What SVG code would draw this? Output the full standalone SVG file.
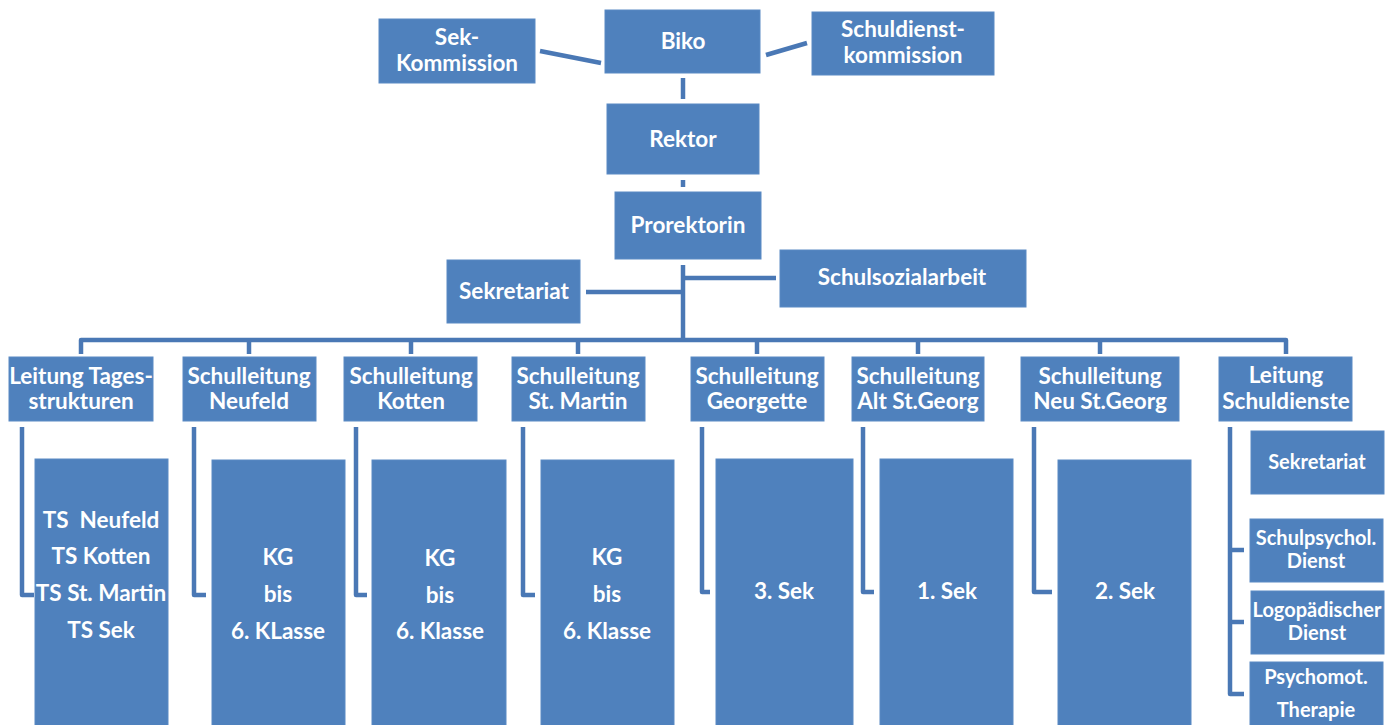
<svg xmlns="http://www.w3.org/2000/svg" width="1389" height="725" viewBox="0 0 1389 725">
<style>
.b{fill:#4F81BD;stroke:#5A8AC4;stroke-width:1}
.t{font-family:Lato,"Liberation Sans",sans-serif;font-weight:700;font-size:22.5px;fill:#FFFFFF;text-anchor:middle;white-space:pre}
.s{font-size:20px}
.c{fill:none;stroke:#4A78B5;stroke-width:4.5;stroke-linejoin:round}
</style>
<rect width="1389" height="725" fill="#FFFFFF"/>
<g id="connectors">
<line class="c" x1="540" y1="51" x2="601" y2="63"/>
<line class="c" x1="766" y1="55" x2="807" y2="43"/>
<line class="c" x1="683" y1="78" x2="683" y2="99"/>
<line class="c" x1="683" y1="180" x2="683" y2="187"/>
<line class="c" x1="683" y1="265" x2="683" y2="340"/>
<line class="c" x1="683" y1="278" x2="776" y2="278"/>
<line class="c" x1="586" y1="292" x2="683" y2="292"/>
<path class="c" d="M81,354 V340 H1286 V354"/>
<line class="c" x1="249" y1="340" x2="249" y2="354"/>
<line class="c" x1="411" y1="340" x2="411" y2="354"/>
<line class="c" x1="578" y1="340" x2="578" y2="354"/>
<line class="c" x1="757" y1="340" x2="757" y2="354"/>
<line class="c" x1="918" y1="340" x2="918" y2="354"/>
<line class="c" x1="1100" y1="340" x2="1100" y2="354"/>
<path class="c" d="M22,427 V595 H34"/>
<path class="c" d="M194,427 V595 H206"/>
<path class="c" d="M356,427 V595 H367"/>
<path class="c" d="M523,427 V595 H535"/>
<path class="c" d="M702,427 V592 H710"/>
<path class="c" d="M863,427 V592 H874"/>
<path class="c" d="M1034,427 V592 H1052"/>
<path class="c" d="M1230,427 V694 H1244"/>
<line class="c" x1="1230" y1="550" x2="1244" y2="550"/>
<line class="c" x1="1230" y1="622" x2="1244" y2="622"/>
</g>
<g id="sek-kommission"><rect class="b" x="379" y="19" width="156" height="64"/><text class="t" x="457" y="45">Sek-</text><text class="t" x="457" y="71">Kommission</text></g>
<g id="biko"><rect class="b" x="605" y="10" width="155" height="63"/><text class="t" x="683" y="49">Biko</text></g>
<g id="schuldienstkommission"><rect class="b" x="812" y="12" width="182" height="63"/><text class="t" x="903" y="37">Schuldienst-</text><text class="t" x="903" y="63">kommission</text></g>
<g id="rektor"><rect class="b" x="607" y="104" width="152" height="70"/><text class="t" x="683" y="147">Rektor</text></g>
<g id="prorektorin"><rect class="b" x="615" y="192" width="146" height="67"/><text class="t" x="688" y="233">Prorektorin</text></g>
<g id="schulsozialarbeit"><rect class="b" x="780" y="250" width="246" height="57"/><text class="t" x="902" y="285">Schulsozialarbeit</text></g>
<g id="sekretariat"><rect class="b" x="447" y="260" width="133" height="63"/><text class="t" x="514" y="299">Sekretariat</text></g>
<g id="leitung-tagesstrukturen"><rect class="b" x="9" y="357" width="144" height="64"/><text class="t" x="81" y="384">Leitung Tages-</text><text class="t" x="81" y="409">strukturen</text></g>
<g id="ts"><rect class="b" x="35" y="459" width="133" height="270"/><text class="t" x="101" y="528">TS  Neufeld</text><text class="t" x="101" y="564">TS Kotten</text><text class="t" x="101" y="601">TS St. Martin</text><text class="t" x="101" y="638">TS Sek</text></g>
<g id="schulleitung-neufeld"><rect class="b" x="183" y="357" width="133" height="64"/><text class="t" x="249" y="384">Schulleitung</text><text class="t" x="249" y="409">Neufeld</text></g>
<g id="neufeld-klassen"><rect class="b" x="212" y="460" width="133" height="270"/><text class="t" x="278" y="565">KG</text><text class="t" x="278" y="602">bis</text><text class="t" x="278" y="639">6. KLasse</text></g>
<g id="schulleitung-kotten"><rect class="b" x="344" y="357" width="133" height="64"/><text class="t" x="411" y="384">Schulleitung</text><text class="t" x="411" y="409">Kotten</text></g>
<g id="kotten-klassen"><rect class="b" x="372" y="460" width="134" height="270"/><text class="t" x="440" y="566">KG</text><text class="t" x="440" y="603">bis</text><text class="t" x="440" y="639">6. Klasse</text></g>
<g id="schulleitung-st-martin"><rect class="b" x="512" y="357" width="133" height="64"/><text class="t" x="578" y="384">Schulleitung</text><text class="t" x="578" y="409">St. Martin</text></g>
<g id="st-martin-klassen"><rect class="b" x="541" y="460" width="133" height="270"/><text class="t" x="607" y="565">KG</text><text class="t" x="607" y="602">bis</text><text class="t" x="607" y="639">6. Klasse</text></g>
<g id="schulleitung-georgette"><rect class="b" x="691" y="357" width="133" height="64"/><text class="t" x="757" y="384">Schulleitung</text><text class="t" x="757" y="409">Georgette</text></g>
<g id="georgette-sek"><rect class="b" x="716" y="459" width="137" height="270"/><text class="t" x="784" y="599">3. Sek</text></g>
<g id="schulleitung-alt-st-georg"><rect class="b" x="852" y="357" width="132" height="64"/><text class="t" x="918" y="384">Schulleitung</text><text class="t" x="918" y="409">Alt St.Georg</text></g>
<g id="alt-st-georg-sek"><rect class="b" x="880" y="459" width="133" height="270"/><text class="t" x="947" y="599">1. Sek</text></g>
<g id="schulleitung-neu-st-georg"><rect class="b" x="1021" y="357" width="158" height="64"/><text class="t" x="1100" y="384">Schulleitung</text><text class="t" x="1100" y="409">Neu St.Georg</text></g>
<g id="neu-st-georg-sek"><rect class="b" x="1058" y="460" width="133" height="270"/><text class="t" x="1125" y="599">2. Sek</text></g>
<g id="leitung-schuldienste"><rect class="b" x="1219" y="357" width="133" height="64"/><text class="t" x="1286" y="383">Leitung</text><text class="t" x="1286" y="409">Schuldienste</text></g>
<g id="sd-sekretariat"><rect class="b" x="1251" y="431" width="133" height="63"/><text class="t s" x="1317" y="469">Sekretariat</text></g>
<g id="schulpsychol-dienst"><rect class="b" x="1250" y="519" width="133" height="63"/><text class="t s" x="1316" y="545">Schulpsychol.</text><text class="t s" x="1316" y="568">Dienst</text></g>
<g id="logopaedischer-dienst"><rect class="b" x="1251" y="591" width="133" height="63"/><text class="t s" x="1317" y="617">Logopädischer</text><text class="t s" x="1317" y="640">Dienst</text></g>
<g id="psychomot-therapie"><rect class="b" x="1250" y="662" width="133" height="70"/><text class="t s" x="1316" y="684">Psychomot.</text><text class="t s" x="1316" y="717">Therapie</text></g>
</svg>
